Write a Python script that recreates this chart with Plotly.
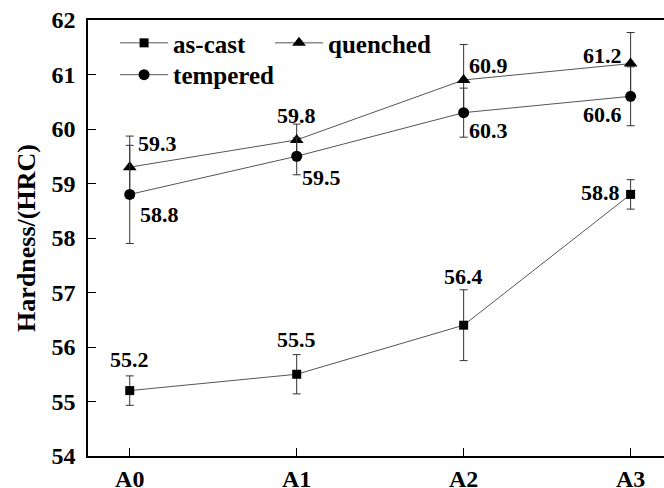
import plotly.graph_objects as go

categories = ["A0", "A1", "A2", "A3"]
as_cast = [55.2, 55.5, 56.4, 58.8]
as_cast_err = [0.27, 0.36, 0.65, 0.27]
quenched = [59.3, 59.8, 60.9, 61.2]
quenched_err = [0.57, 0.29, 0.65, 0.57]
tempered = [58.8, 59.5, 60.3, 60.6]
tempered_err = [0.9, 0.34, 0.45, 0.54]

FONT = "Liberation Serif, Times New Roman, serif"
LINE_C = "#555555"

fig = go.Figure()

def add_series(name, y, err, symbol, size, legend):
    fig.add_trace(go.Scatter(
        x=categories, y=y, name=f"<b>{name}</b>", mode="lines+markers",
        line=dict(color=LINE_C, width=1),
        marker=dict(symbol=symbol, size=size, color="black"),
        error_y=dict(type="data", array=err, visible=True, color="#333333",
                     thickness=1, width=4),
        legend=legend,
    ))

add_series("as-cast", as_cast, as_cast_err, "square", 9, "legend")
add_series("quenched", quenched, quenched_err, "triangle-up", 12, "legend2")
add_series("tempered", tempered, tempered_err, "circle", 11, "legend3")

# label offsets (pixels) per series per category
offsets = {
    "as": [(0, 31), (0, 35), (0, 49), (-30, 2)],
    "q": [(28, 24), (0, 24), (25, 14), (-28, 8)],
    "t": [(30, -20), (25, -21), (25, -18), (-28, -18)],
}
for key, vals in (("as", as_cast), ("q", quenched), ("t", tempered)):
    for i, (c, v) in enumerate(zip(categories, vals)):
        dx, dy = offsets[key][i]
        fig.add_annotation(x=c, y=v, text=f"<b>{v:.1f}</b>", showarrow=False,
                           xshift=dx, yshift=dy,
                           font=dict(family=FONT, size=22, color="black"))

leg_font = dict(family=FONT, size=25, color="black")
fig.update_layout(
    width=664, height=488,
    margin=dict(l=88, r=0, t=20, b=32),
    paper_bgcolor="white", plot_bgcolor="white",
    font=dict(family=FONT, color="black"),
    showlegend=True,
    legend=dict(x=0.047, y=0.947, xanchor="left", yanchor="middle",
                font=leg_font, bgcolor="rgba(0,0,0,0)", itemwidth=48),
    legend2=dict(x=0.316, y=0.947, xanchor="left", yanchor="middle",
                 font=leg_font, bgcolor="rgba(0,0,0,0)", itemwidth=48),
    legend3=dict(x=0.047, y=0.874, xanchor="left", yanchor="middle",
                 font=leg_font, bgcolor="rgba(0,0,0,0)", itemwidth=48),
    xaxis=dict(
        type="category", range=[-0.25, 3.2], automargin=False,
        showline=True, linecolor="black", linewidth=1.5, mirror=True,
        ticks="inside", ticklen=8, tickcolor="black", tickwidth=1.2,
        showgrid=False, zeroline=False,
        tickvals=categories, ticktext=[f"<b>{c}</b>" for c in categories],
        tickfont=dict(family=FONT, size=24, color="black"),
        ticklabelstandoff=0,
    ),
    yaxis=dict(
        range=[54, 62], dtick=1, automargin=False,
        showline=True, linecolor="black", linewidth=1.5,
        ticks="inside", ticklen=8, tickcolor="black", tickwidth=1.2,
        showgrid=False, zeroline=False,
        tickprefix="<b>", ticksuffix="</b>",
        tickfont=dict(family=FONT, size=24, color="black"),
        ticklabelstandoff=6,
        title=dict(text="<b>Hardness/(HRC)</b>", standoff=8,
                   font=dict(family=FONT, size=26, color="black")),
    ),
)

fig.write_html("out.html", config={"displayModeBar": False},
               post_script="document.body.style.margin='0';document.body.style.overflow='hidden';")
